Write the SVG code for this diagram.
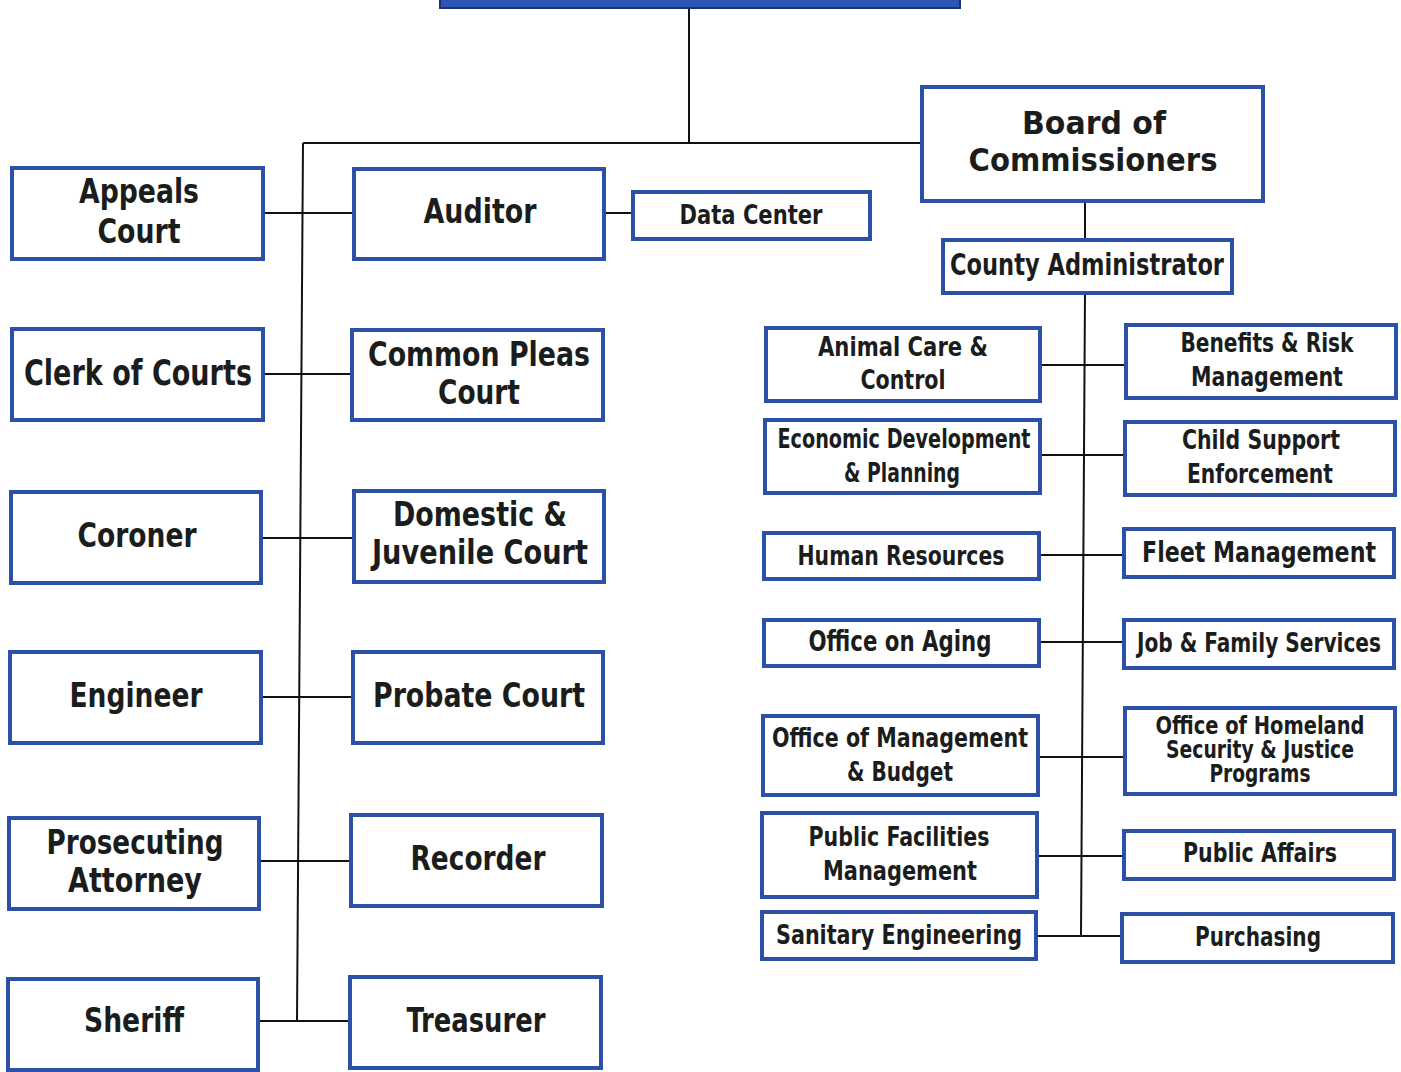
<svg xmlns="http://www.w3.org/2000/svg" width="1401" height="1072" viewBox="0 0 1401 1072">
<style>
.box{fill:#fff;stroke:#2c50a6;stroke-width:4}
.t{font-family:"DejaVu Sans Condensed","Liberation Sans Narrow","Liberation Sans",sans-serif;font-weight:bold;fill:#1b1d1c;text-anchor:middle}
.b{font-family:"DejaVu Sans","Liberation Sans",sans-serif;font-weight:bold;fill:#1b1d1c;text-anchor:middle}
.c{fill:none;stroke:#111;stroke-width:2}
</style>
<rect width="1401" height="1072" fill="#fff"/>
<g id="connectors">
<path class="c" d="M689 8V143M303 143H922M303 143L297 1021"/>
<path class="c" d="M263 213H354M263 374H352M261 538H354M261 697H353M259 861H351M258 1021H350M604 213H633"/>
<path class="c" d="M1085 201V240M1085 293L1081 936"/>
<path class="c" d="M1040 365H1126M1040 455H1125M1039 555H1124M1039 642H1124M1038 757H1125M1037 856H1124M1036 936H1122"/>
</g>
<g id="top"><rect x="440" y="-12" width="520" height="20" fill="#2c55b4" stroke="#1d3370" stroke-width="2"/></g>
<g id="appeals"><rect class="box" x="12" y="168" width="251" height="91"/><text class="t" font-size="34" x="139" y="203" textLength="120" lengthAdjust="spacingAndGlyphs">Appeals</text><text class="t" font-size="34" x="139" y="243" textLength="83" lengthAdjust="spacingAndGlyphs">Court</text></g>
<g id="clerk"><rect class="box" x="12" y="329" width="251" height="91"/><text class="t" font-size="35" x="138" y="385" textLength="228" lengthAdjust="spacingAndGlyphs">Clerk of Courts</text></g>
<g id="coroner"><rect class="box" x="11" y="492" width="250" height="91"/><text class="t" font-size="34" x="137" y="547" textLength="119" lengthAdjust="spacingAndGlyphs">Coroner</text></g>
<g id="engineer"><rect class="box" x="10" y="652" width="251" height="91"/><text class="t" font-size="34" x="136" y="707" textLength="133" lengthAdjust="spacingAndGlyphs">Engineer</text></g>
<g id="prosecuting"><rect class="box" x="9" y="818" width="250" height="91"/><text class="t" font-size="34" x="135" y="854" textLength="177" lengthAdjust="spacingAndGlyphs">Prosecuting</text><text class="t" font-size="34" x="135" y="892" textLength="134" lengthAdjust="spacingAndGlyphs">Attorney</text></g>
<g id="sheriff"><rect class="box" x="8" y="979" width="250" height="91"/><text class="t" font-size="34" x="134" y="1032" textLength="100" lengthAdjust="spacingAndGlyphs">Sheriff</text></g>
<g id="auditor"><rect class="box" x="354" y="169" width="250" height="90"/><text class="t" font-size="34" x="480" y="223" textLength="113" lengthAdjust="spacingAndGlyphs">Auditor</text></g>
<g id="commonpleas"><rect class="box" x="352" y="330" width="251" height="90"/><text class="t" font-size="34" x="479" y="366" textLength="222" lengthAdjust="spacingAndGlyphs">Common Pleas</text><text class="t" font-size="34" x="479" y="404" textLength="82" lengthAdjust="spacingAndGlyphs">Court</text></g>
<g id="domestic"><rect class="box" x="354" y="491" width="250" height="91"/><text class="t" font-size="34" x="480" y="526" textLength="174" lengthAdjust="spacingAndGlyphs">Domestic &amp;</text><text class="t" font-size="34" x="480" y="564" textLength="216" lengthAdjust="spacingAndGlyphs">Juvenile Court</text></g>
<g id="probate"><rect class="box" x="353" y="652" width="250" height="91"/><text class="t" font-size="34" x="479" y="707" textLength="212" lengthAdjust="spacingAndGlyphs">Probate Court</text></g>
<g id="recorder"><rect class="box" x="351" y="815" width="251" height="91"/><text class="t" font-size="34" x="478" y="870" textLength="135" lengthAdjust="spacingAndGlyphs">Recorder</text></g>
<g id="treasurer"><rect class="box" x="350" y="977" width="251" height="91"/><text class="t" font-size="34" x="476" y="1032" textLength="139" lengthAdjust="spacingAndGlyphs">Treasurer</text></g>
<g id="datacenter"><rect class="box" x="633" y="192" width="237" height="47"/><text class="t" font-size="27" x="751" y="224" textLength="143" lengthAdjust="spacingAndGlyphs">Data Center</text></g>
<g id="board"><rect class="box" x="922" y="87" width="341" height="114"/><text class="b" font-size="32" x="1094" y="134" textLength="144" lengthAdjust="spacingAndGlyphs">Board of</text><text class="b" font-size="32" x="1093" y="171" textLength="249" lengthAdjust="spacingAndGlyphs">Commissioners</text></g>
<g id="county"><rect class="box" x="943" y="240" width="289" height="53"/><text class="t" font-size="30" x="1087" y="275" textLength="274" lengthAdjust="spacingAndGlyphs">County Administrator</text></g>
<g id="animal"><rect class="box" x="766" y="328" width="274" height="73"/><text class="t" font-size="27" x="903" y="356" textLength="170" lengthAdjust="spacingAndGlyphs">Animal Care &amp;</text><text class="t" font-size="27" x="903" y="389" textLength="85" lengthAdjust="spacingAndGlyphs">Control</text></g>
<g id="econ"><rect class="box" x="765" y="420" width="275" height="73"/><text class="t" font-size="27" x="904" y="448" textLength="253" lengthAdjust="spacingAndGlyphs">Economic Development</text><text class="t" font-size="27" x="902" y="482" textLength="116" lengthAdjust="spacingAndGlyphs">&amp; Planning</text></g>
<g id="hr"><rect class="box" x="764" y="533" width="275" height="46"/><text class="t" font-size="27" x="901" y="565" textLength="207" lengthAdjust="spacingAndGlyphs">Human Resources</text></g>
<g id="aging"><rect class="box" x="764" y="620" width="275" height="46"/><text class="t" font-size="28" x="900" y="651" textLength="183" lengthAdjust="spacingAndGlyphs">Office on Aging</text></g>
<g id="omb"><rect class="box" x="763" y="716" width="275" height="79"/><text class="t" font-size="27" x="900" y="747" textLength="256" lengthAdjust="spacingAndGlyphs">Office of Management</text><text class="t" font-size="27" x="900" y="781" textLength="106" lengthAdjust="spacingAndGlyphs">&amp; Budget</text></g>
<g id="pfm"><rect class="box" x="762" y="813" width="275" height="84"/><text class="t" font-size="27" x="899" y="846" textLength="181" lengthAdjust="spacingAndGlyphs">Public Facilities</text><text class="t" font-size="27" x="900" y="880" textLength="154" lengthAdjust="spacingAndGlyphs">Management</text></g>
<g id="sanitary"><rect class="box" x="762" y="912" width="274" height="47"/><text class="t" font-size="27" x="899" y="944" textLength="246" lengthAdjust="spacingAndGlyphs">Sanitary Engineering</text></g>
<g id="benefits"><rect class="box" x="1126" y="325" width="270" height="73"/><text class="t" font-size="27" x="1267" y="352" textLength="173" lengthAdjust="spacingAndGlyphs">Benefits &amp; Risk</text><text class="t" font-size="27" x="1267" y="386" textLength="152" lengthAdjust="spacingAndGlyphs">Management</text></g>
<g id="child"><rect class="box" x="1125" y="422" width="270" height="73"/><text class="t" font-size="27" x="1261" y="449" textLength="158" lengthAdjust="spacingAndGlyphs">Child Support</text><text class="t" font-size="27" x="1260" y="483" textLength="146" lengthAdjust="spacingAndGlyphs">Enforcement</text></g>
<g id="fleet"><rect class="box" x="1124" y="529" width="270" height="48"/><text class="t" font-size="29" x="1259" y="562" textLength="234" lengthAdjust="spacingAndGlyphs">Fleet Management</text></g>
<g id="job"><rect class="box" x="1124" y="620" width="270" height="48"/><text class="t" font-size="27" x="1259" y="652" textLength="244" lengthAdjust="spacingAndGlyphs">Job &amp; Family Services</text></g>
<g id="homeland"><rect class="box" x="1125" y="708" width="270" height="86"/><text class="t" font-size="24" x="1260" y="734" textLength="209" lengthAdjust="spacingAndGlyphs">Office of Homeland</text><text class="t" font-size="24" x="1260" y="758" textLength="188" lengthAdjust="spacingAndGlyphs">Security &amp; Justice</text><text class="t" font-size="24" x="1260" y="782" textLength="101" lengthAdjust="spacingAndGlyphs">Programs</text></g>
<g id="publicaffairs"><rect class="box" x="1124" y="831" width="270" height="48"/><text class="t" font-size="27" x="1260" y="862" textLength="154" lengthAdjust="spacingAndGlyphs">Public Affairs</text></g>
<g id="purchasing"><rect class="box" x="1122" y="914" width="271" height="48"/><text class="t" font-size="27" x="1258" y="946" textLength="126" lengthAdjust="spacingAndGlyphs">Purchasing</text></g>
</svg>
